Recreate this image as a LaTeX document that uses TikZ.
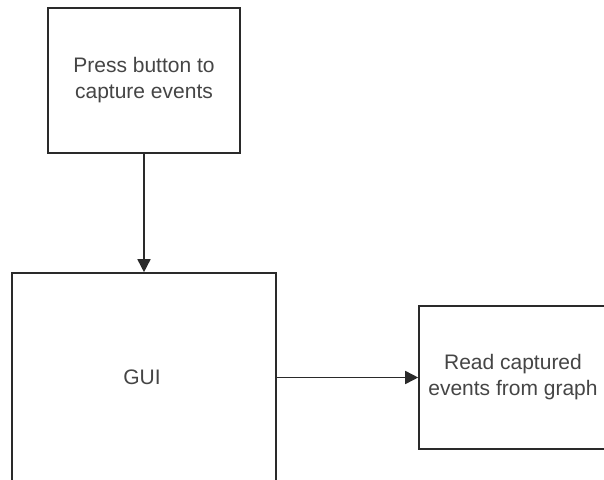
\documentclass[tikz,border=0pt]{standalone}
\usepackage{fontspec}
\setmainfont{Liberation Sans}
\usetikzlibrary{arrows.meta}
\definecolor{edge}{HTML}{2A2A2A}
\definecolor{txt}{HTML}{454545}
\tikzset{
  box/.style={draw=edge, line width=1.6pt, fill=white, inner sep=0pt, align=center,
    text=txt, font=\fontsize{21}{26}\selectfont},
  lbl/.style={text=txt, font=\fontsize{21}{26}\selectfont, align=center, inner sep=0pt},
  conn/.style={draw=edge, line width=1.6pt, -{Triangle[length=13pt,width=13pt]}}
}
\begin{document}
\begin{tikzpicture}[x=1pt,y=-1pt]
\useasboundingbox (0,0) rectangle (604,479);
\clip (0,0) rectangle (604,479);
\node[box, minimum width=192pt, minimum height=145pt] (press) at (144,80.5)
  {Press button to\\capture events};
\node[box, minimum width=264pt, minimum height=260pt] (gui) at (144,403) {};
\node[lbl] (guitxt) at (142,377) {GUI};
\node[box, minimum width=210pt, minimum height=143pt] (read) at (524,377.5) {};
\node[lbl] (readtxt) at (513,377.5) {Read captured\\events from graph};
\draw[conn] (press.south) -- (gui.north);
\draw[conn] (gui.east |- read.west) -- (read.west);
\end{tikzpicture}
\end{document}
